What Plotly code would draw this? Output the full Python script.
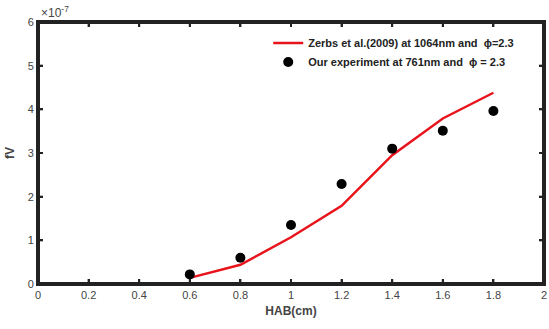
import plotly.graph_objects as go

hab = [0.6, 0.8, 1.0, 1.2, 1.4, 1.6, 1.8]
zerbs_fv = [0.14, 0.44, 1.07, 1.79, 2.95, 3.79, 4.38]   # x 1e-7
exp_fv = [0.22, 0.60, 1.35, 2.29, 3.10, 3.51, 3.96]     # x 1e-7
x_ticks = [0, 0.2, 0.4, 0.6, 0.8, 1, 1.2, 1.4, 1.6, 1.8, 2]
x_ticktext = ["0", "0.2", "0.4", "0.6", "0.8", "1", "1.2", "1.4", "1.6", "1.8", "2"]
y_ticks = [0, 1, 2, 3, 4, 5, 6]
x_range = [0, 2]
y_range = [0, 6]

FONT = "Liberation Sans"
TXT = "#444"
AX = "rgb(34,34,34)"
W, H = 549, 329
M = dict(l=38, r=3, t=22, b=45)
PW = W - M["l"] - M["r"]
PH = H - M["t"] - M["b"]
TICK_PX = 5

fig = go.Figure()

# box frame and inside tick marks, built from the axis ranges and tick arrays
x0, x1 = x_range
y0, y1 = y_range
tlx = TICK_PX / PW * (x1 - x0)
tly = TICK_PX / PH * (y1 - y0)
seg_x, seg_y = [], []
for v in x_ticks:
    seg_x += [v, v, None, v, v, None]
    seg_y += [y0, y0 + tly, None, y1, y1 - tly, None]
for v in y_ticks:
    seg_x += [x0, x0 + tlx, None, x1, x1 - tlx, None]
    seg_y += [v, v, None, v, v, None]
fig.add_trace(go.Scatter(x=seg_x, y=seg_y, mode="lines",
                         line=dict(color=AX, width=2), showlegend=False, hoverinfo="skip"))
fig.add_trace(go.Scatter(x=[x0, x1, x1, x0, x0], y=[y0, y0, y1, y1, y0], mode="lines",
                         line=dict(color=AX, width=4), showlegend=False, hoverinfo="skip"))

fig.add_trace(go.Scatter(
    x=hab, y=zerbs_fv, mode="lines",
    line=dict(color="#e8141c", width=2.5),
    name="<b>Zerbs et al.(2009) at 1064nm and  ϕ=2.3</b>"))
fig.add_trace(go.Scatter(
    x=hab, y=exp_fv, mode="markers",
    marker=dict(color="black", size=10),
    name="<b>Our experiment at 761nm and  ϕ = 2.3</b>"))

fig.update_layout(
    width=W, height=H, margin=M,
    paper_bgcolor="white", plot_bgcolor="white",
    font=dict(family=FONT, color=TXT),
    showlegend=True,
    legend=dict(x=0.455, y=0.975, xanchor="left", yanchor="top",
                bgcolor="rgba(0,0,0,0)", font=dict(family=FONT, size=11, color="#222"),
                tracegroupgap=0, itemwidth=30),
)
fig.update_xaxes(range=x_range, tickvals=x_ticks, ticktext=x_ticktext,
                 showline=True, linecolor=AX, linewidth=2, mirror="allticks",
                 ticks="inside", ticklen=TICK_PX, tickwidth=2, tickcolor=AX,
                 showgrid=False, zeroline=False,
                 tickfont=dict(family=FONT, size=11, color=TXT),
                 title=dict(text="<b>HAB(cm)</b>", font=dict(family=FONT, size=12, color=TXT), standoff=6))
fig.update_yaxes(range=y_range, tickvals=y_ticks,
                 showline=True, linecolor=AX, linewidth=2, mirror="allticks",
                 ticks="inside", ticklen=TICK_PX, tickwidth=2, tickcolor=AX,
                 showgrid=False, zeroline=False,
                 tickfont=dict(family=FONT, size=11, color=TXT),
                 title=dict(text="<b>fV</b>", font=dict(family=FONT, size=12, color=TXT), standoff=10))
fig.add_annotation(x=0, y=1, xref="paper", yref="paper", xanchor="left", yanchor="bottom",
                   text="×10<sup>-7</sup>", showarrow=False,
                   font=dict(family=FONT, size=12, color=TXT), xshift=1, yshift=0)

fig.write_html("out.html", config={"displayModeBar": False},
               post_script="document.body.style.margin='0';")
